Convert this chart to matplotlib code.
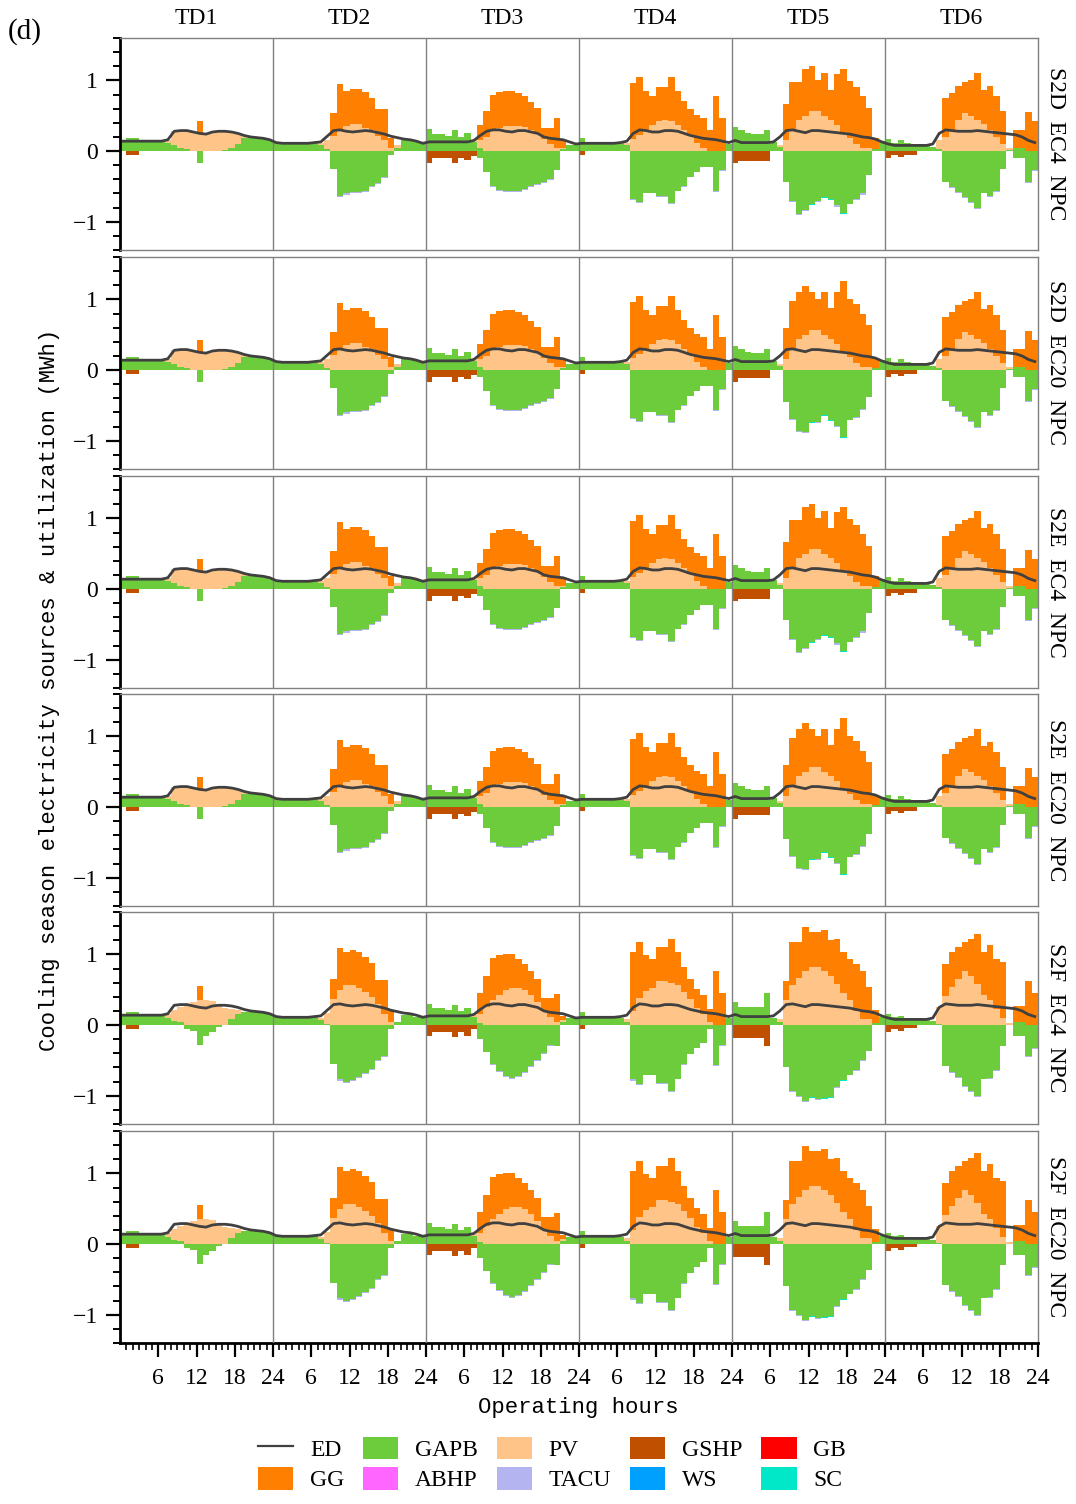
import numpy as np
import matplotlib.pyplot as plt
from matplotlib.patches import Patch
from matplotlib.lines import Line2D

plt.rcParams['font.family'] = 'serif'
plt.rcParams['font.serif'] = ['Liberation Serif', 'DejaVu Serif']

# ---- data (MWh per operating hour, 6 typical days x 24 h) ----
TD_LABELS = ['TD1', 'TD2', 'TD3', 'TD4', 'TD5', 'TD6']
ROW_LABELS = ['S2D  EC4  NPC', 'S2D  EC20  NPC', 'S2E  EC4  NPC',
              'S2E  EC20  NPC', 'S2F  EC4  NPC', 'S2F  EC20  NPC']
ROW_GROUP = ['A', 'A', 'A', 'A', 'B', 'B']
EC20_ROWS = [1, 3]   # S2D/S2E EC20 differ on TD5

# electricity demand (same for all scenarios)
ED = [0.14, 0.14, 0.14, 0.14, 0.14, 0.14, 0.14, 0.16, 0.28, 0.29, 0.29, 0.27, 0.25, 0.24, 0.27, 0.28, 0.28, 0.27, 0.25, 0.22, 0.20, 0.19, 0.18, 0.16,
      0.12, 0.11, 0.11, 0.11, 0.11, 0.11, 0.12, 0.13, 0.21, 0.29, 0.30, 0.28, 0.27, 0.28, 0.29, 0.28, 0.26, 0.24, 0.21, 0.19, 0.17, 0.16, 0.14, 0.11,
      0.13, 0.13, 0.13, 0.13, 0.13, 0.13, 0.13, 0.15, 0.22, 0.28, 0.30, 0.30, 0.28, 0.27, 0.29, 0.29, 0.27, 0.25, 0.20, 0.18, 0.17, 0.16, 0.13, 0.10,
      0.11, 0.11, 0.11, 0.11, 0.11, 0.11, 0.12, 0.14, 0.25, 0.30, 0.29, 0.27, 0.27, 0.29, 0.29, 0.28, 0.25, 0.22, 0.20, 0.18, 0.17, 0.16, 0.14, 0.12,
      0.15, 0.12, 0.12, 0.12, 0.12, 0.12, 0.13, 0.20, 0.29, 0.30, 0.28, 0.26, 0.29, 0.29, 0.28, 0.27, 0.26, 0.25, 0.24, 0.22, 0.20, 0.19, 0.17, 0.13,
      0.10, 0.08, 0.08, 0.08, 0.08, 0.08, 0.08, 0.10, 0.25, 0.30, 0.29, 0.28, 0.28, 0.28, 0.29, 0.28, 0.27, 0.26, 0.25, 0.24, 0.23, 0.20, 0.15, 0.12]

# rows S2D / S2E
GAPB_A = [0.14, 0.18, 0.18, 0.14, 0.14, 0.14, 0.14, 0.12, 0.08, 0.05, 0.03, 0, 0, 0, 0, 0, 0.02, 0.05, 0.10, 0.19, 0.20, 0.19, 0.18, 0.16,
          0.11, 0.11, 0.11, 0.11, 0.11, 0.11, 0.11, 0.08, 0.03, 0, 0, 0, 0, 0, 0, 0, 0, 0, 0, 0.05, 0.15, 0.15, 0.13, 0.10,
          0.31, 0.24, 0.24, 0.22, 0.30, 0.20, 0.25, 0.13, 0.05, 0, 0, 0, 0, 0, 0, 0, 0, 0, 0, 0, 0, 0.03, 0.08, 0.08,
          0.19, 0.12, 0.12, 0.12, 0.12, 0.12, 0.12, 0.08, 0, 0, 0, 0, 0, 0, 0, 0, 0, 0, 0, 0, 0, 0, 0, 0.10,
          0.34, 0.30, 0.26, 0.24, 0.24, 0.30, 0.13, 0.06, 0, 0, 0, 0, 0, 0, 0, 0, 0, 0, 0, 0, 0, 0, 0.03, 0.14,
          0.17, 0.12, 0.15, 0.12, 0.10, 0.10, 0.08, 0.06, 0.03, 0, 0, 0, 0, 0, 0, 0, 0, 0, 0, 0.02, 0.05, 0.05, 0, 0]
PV_A = [0, 0, 0, 0, 0, 0, 0, 0.03, 0.20, 0.24, 0.26, 0.27, 0.25, 0.24, 0.27, 0.28, 0.26, 0.22, 0.15, 0.02, 0, 0, 0, 0,
        0, 0, 0, 0, 0, 0, 0, 0.03, 0.12, 0.22, 0.28, 0.35, 0.38, 0.38, 0.33, 0.30, 0.22, 0.15, 0.05, 0.03, 0, 0, 0, 0,
        0, 0, 0, 0, 0, 0, 0, 0.02, 0.10, 0.20, 0.28, 0.32, 0.35, 0.36, 0.36, 0.34, 0.30, 0.24, 0.17, 0.10, 0.05, 0.02, 0, 0,
        0, 0, 0, 0, 0, 0, 0, 0.03, 0.17, 0.23, 0.30, 0.37, 0.43, 0.44, 0.42, 0.37, 0.30, 0.22, 0.12, 0.05, 0, 0, 0, 0,
        0, 0, 0, 0, 0, 0, 0, 0.02, 0.16, 0.30, 0.44, 0.50, 0.56, 0.56, 0.50, 0.44, 0.37, 0.27, 0.18, 0.10, 0.05, 0.05, 0, 0,
        0, 0, 0, 0, 0, 0, 0, 0, 0.12, 0.20, 0.30, 0.44, 0.54, 0.50, 0.44, 0.38, 0.30, 0.20, 0.10, 0.03, 0, 0, 0, 0]
GG_A = [0, 0, 0, 0, 0, 0, 0, 0, 0, 0, 0, 0, 0.18, 0, 0, 0, 0, 0, 0, 0, 0, 0, 0, 0,
        0, 0, 0, 0, 0, 0, 0, 0, 0, 0.32, 0.67, 0.50, 0.50, 0.50, 0.50, 0.45, 0.37, 0.44, 0.13, 0, 0, 0, 0, 0,
        0, 0, 0, 0, 0, 0, 0, 0, 0.22, 0.36, 0.52, 0.51, 0.50, 0.49, 0.46, 0.44, 0.40, 0.37, 0.15, 0.22, 0.42, 0.11, 0, 0,
        0, 0, 0, 0, 0, 0, 0, 0, 0.79, 0.82, 0.55, 0.41, 0.48, 0.47, 0.63, 0.48, 0.41, 0.38, 0.39, 0.42, 0.30, 0.78, 0.47, 0,
        0, 0, 0, 0, 0, 0, 0, 0, 0.50, 0.68, 0.54, 0.66, 0.64, 0.45, 0.61, 0.43, 0.72, 0.89, 0.81, 0.80, 0.73, 0.56, 0.16, 0,
        0, 0, 0, 0, 0, 0, 0, 0, 0, 0.55, 0.52, 0.48, 0.44, 0.51, 0.67, 0.49, 0.62, 0.58, 0.46, 0, 0.25, 0.25, 0.55, 0.42]
USE_A = [0, 0, 0, 0, 0, 0, 0, 0, 0, 0, 0, 0, -0.17, 0, 0, 0, 0, 0, 0, 0, 0, 0, 0, 0,
         0, 0, 0, 0, 0, 0, 0, 0, 0, -0.25, -0.63, -0.60, -0.58, -0.58, -0.56, -0.50, -0.45, -0.36, -0.05, 0, 0, 0, 0, 0,
         0, 0, 0, 0, 0, 0, 0, 0, -0.10, -0.30, -0.50, -0.55, -0.57, -0.57, -0.57, -0.53, -0.50, -0.47, -0.44, -0.40, -0.27, 0, 0, 0,
         0, 0, 0, 0, 0, 0, 0, 0, -0.68, -0.72, -0.60, -0.60, -0.63, -0.63, -0.74, -0.56, -0.49, -0.37, -0.30, -0.22, -0.22, -0.56, -0.27, 0,
         0, 0, 0, 0, 0, 0, 0, 0, -0.44, -0.70, -0.89, -0.84, -0.75, -0.70, -0.65, -0.68, -0.77, -0.87, -0.75, -0.68, -0.60, -0.34, 0, 0,
         0, 0, 0, 0, 0, 0, 0, 0, 0, -0.44, -0.51, -0.58, -0.65, -0.72, -0.80, -0.60, -0.63, -0.56, -0.25, 0, -0.10, -0.10, -0.44, -0.27]
GSHP_A = [0, -0.05, -0.05, 0, 0, 0, 0, 0, 0, 0, 0, 0, 0, 0, 0, 0, 0, 0, 0, 0, 0, 0, 0, 0,
          0, 0, 0, 0, 0, 0, 0, 0, 0, 0, 0, 0, 0, 0, 0, 0, 0, 0, 0, 0, 0, 0, 0, 0,
          -0.17, -0.10, -0.10, -0.10, -0.17, -0.10, -0.13, -0.07, 0, 0, 0, 0, 0, 0, 0, 0, 0, 0, 0, 0, 0, 0, 0, 0,
          -0.06, 0, 0, 0, 0, 0, 0, 0, 0, 0, 0, 0, 0, 0, 0, 0, 0, 0, 0, 0, 0, 0, 0, 0,
          -0.17, -0.14, -0.14, -0.14, -0.14, -0.14, 0, 0, 0, 0, 0, 0, 0, 0, 0, 0, 0, 0, 0, 0, 0, 0, 0, 0,
          -0.10, -0.05, -0.08, -0.05, -0.05, 0, 0, 0, 0, 0, 0, 0, 0, 0, 0, 0, 0, 0, 0, 0, 0, 0, 0, 0]

# TD5 of the S2D / S2E EC20 rows
GG_TD5_EC20 = [0, 0, 0, 0, 0, 0, 0, 0, 0.44, 0.68, 0.66, 0.69, 0.54, 0.44, 0.60, 0.44, 0.73, 0.99, 0.82, 0.83, 0.74, 0.59, 0.14, 0]
USE_TD5_EC20 = [0, 0, 0, 0, 0, 0, 0, 0, -0.45, -0.69, -0.86, -0.88, -0.74, -0.74, -0.64, -0.71, -0.79, -0.95, -0.71, -0.67, -0.55, -0.38, 0, 0]
GSHP_TD5_EC20 = [-0.17, -0.11, -0.11, -0.11, -0.11, -0.11, 0, 0, 0, 0, 0, 0, 0, 0, 0, 0, 0, 0, 0, 0, 0, 0, 0, 0]

# rows S2F
GAPB_B = [0.15, 0.18, 0.18, 0.13, 0.13, 0.13, 0.13, 0.10, 0.06, 0.04, 0, 0, 0, 0, 0, 0, 0, 0.08, 0.15, 0.19, 0.19, 0.18, 0.17, 0.15,
          0.11, 0.11, 0.11, 0.11, 0.11, 0.11, 0.11, 0.07, 0.02, 0, 0, 0, 0, 0, 0, 0, 0, 0, 0, 0.05, 0.14, 0.14, 0.12, 0.10,
          0.30, 0.24, 0.24, 0.22, 0.28, 0.20, 0.24, 0.12, 0.03, 0, 0, 0, 0, 0, 0, 0, 0, 0, 0, 0, 0, 0.05, 0.10, 0.10,
          0.18, 0.10, 0.10, 0.10, 0.10, 0.10, 0.10, 0.05, 0, 0, 0, 0, 0, 0, 0, 0, 0, 0, 0, 0, 0, 0, 0, 0.10,
          0.32, 0.25, 0.25, 0.25, 0.25, 0.46, 0.10, 0.04, 0, 0, 0, 0, 0, 0, 0, 0, 0, 0, 0, 0, 0, 0, 0.03, 0.12,
          0.15, 0.12, 0.13, 0.10, 0.10, 0.08, 0.07, 0.06, 0.02, 0, 0, 0, 0, 0, 0, 0, 0, 0, 0, 0, 0.05, 0.05, 0, 0]
PV_B = [0, 0, 0, 0, 0, 0, 0, 0.05, 0.15, 0.22, 0.28, 0.33, 0.36, 0.36, 0.34, 0.30, 0.24, 0.15, 0.06, 0, 0, 0, 0, 0,
        0, 0, 0, 0, 0, 0, 0, 0.03, 0.15, 0.37, 0.49, 0.57, 0.57, 0.52, 0.47, 0.40, 0.30, 0.15, 0.05, 0, 0, 0, 0, 0,
        0, 0, 0, 0, 0, 0, 0, 0.03, 0.13, 0.25, 0.35, 0.43, 0.50, 0.53, 0.53, 0.50, 0.42, 0.33, 0.22, 0.12, 0.05, 0.02, 0, 0,
        0, 0, 0, 0, 0, 0, 0, 0.03, 0.20, 0.38, 0.48, 0.52, 0.62, 0.63, 0.60, 0.56, 0.47, 0.37, 0.24, 0.15, 0.05, 0, 0, 0,
        0, 0, 0, 0, 0, 0, 0, 0.05, 0.35, 0.57, 0.66, 0.77, 0.82, 0.82, 0.77, 0.70, 0.58, 0.46, 0.35, 0.20, 0.08, 0.08, 0, 0,
        0, 0, 0, 0, 0, 0, 0, 0, 0.23, 0.41, 0.54, 0.65, 0.76, 0.70, 0.58, 0.42, 0.35, 0.23, 0.10, 0.03, 0, 0, 0, 0]
GG_B = [0, 0, 0, 0, 0, 0, 0, 0, 0, 0, 0, 0, 0.19, 0, 0, 0, 0, 0, 0, 0, 0, 0, 0, 0,
        0, 0, 0, 0, 0, 0, 0, 0, 0, 0.28, 0.60, 0.47, 0.49, 0.51, 0.49, 0.48, 0.34, 0.49, 0.15, 0, 0, 0, 0, 0,
        0, 0, 0, 0, 0, 0, 0, 0, 0.29, 0.45, 0.60, 0.56, 0.51, 0.48, 0.41, 0.37, 0.35, 0.32, 0.17, 0.27, 0.39, 0.06, 0, 0,
        0, 0, 0, 0, 0, 0, 0, 0, 0.83, 0.79, 0.51, 0.42, 0.48, 0.47, 0.62, 0.47, 0.35, 0.28, 0.27, 0.28, 0.18, 0.77, 0.46, 0,
        0, 0, 0, 0, 0, 0, 0, 0, 0.28, 0.60, 0.51, 0.62, 0.49, 0.49, 0.57, 0.50, 0.64, 0.57, 0.59, 0.67, 0.69, 0.46, 0.18, 0,
        0, 0, 0, 0, 0, 0, 0, 0, 0, 0.46, 0.49, 0.45, 0.41, 0.52, 0.71, 0.61, 0.79, 0.71, 0.79, 0, 0.22, 0.22, 0.62, 0.46]
USE_B = [0, 0, 0, 0, 0, 0, 0, 0, 0, 0, -0.06, -0.08, -0.28, -0.15, -0.10, -0.03, 0, 0, 0, 0, 0, 0, 0, 0,
         0, 0, 0, 0, 0, 0, 0, 0, 0, -0.55, -0.77, -0.80, -0.78, -0.74, -0.68, -0.62, -0.50, -0.44, -0.05, 0, 0, 0, 0, 0,
         0, 0, 0, 0, 0, 0, 0, 0, -0.20, -0.38, -0.55, -0.65, -0.72, -0.75, -0.72, -0.66, -0.58, -0.50, -0.40, -0.28, -0.30, 0, 0, 0,
         0, 0, 0, 0, 0, 0, 0, 0, -0.77, -0.84, -0.70, -0.70, -0.82, -0.82, -0.93, -0.77, -0.55, -0.41, -0.32, -0.25, -0.05, -0.56, -0.28, 0,
         0, 0, 0, 0, 0, 0, 0, 0, -0.60, -0.93, -1.00, -1.08, -1.02, -1.05, -1.03, -1.02, -0.88, -0.78, -0.70, -0.63, -0.50, -0.36, 0, 0,
         0, 0, 0, 0, 0, 0, 0, 0, 0, -0.58, -0.67, -0.74, -0.86, -0.93, -1.00, -0.77, -0.75, -0.63, -0.29, 0, -0.15, -0.15, -0.44, -0.32]
GSHP_B = [0, -0.05, -0.05, 0, 0, 0, 0, 0, 0, 0, 0, 0, 0, 0, 0, 0, 0, 0, 0, 0, 0, 0, 0, 0,
          0, 0, 0, 0, 0, 0, 0, 0, 0, 0, 0, 0, 0, 0, 0, 0, 0, 0, 0, 0, 0, 0, 0, 0,
          -0.15, -0.10, -0.10, -0.10, -0.17, -0.10, -0.15, -0.05, 0, 0, 0, 0, 0, 0, 0, 0, 0, 0, 0, 0, 0, 0, 0, 0,
          -0.05, 0, 0, 0, 0, 0, 0, 0, 0, 0, 0, 0, 0, 0, 0, 0, 0, 0, 0, 0, 0, 0, 0, 0,
          -0.18, -0.18, -0.18, -0.18, -0.18, -0.29, 0, 0, 0, 0, 0, 0, 0, 0, 0, 0, 0, 0, 0, 0, 0, 0, 0, 0,
          -0.10, -0.05, -0.08, -0.04, -0.04, 0, 0, 0, 0, 0, 0, 0, 0, 0, 0, 0, 0, 0, 0, 0, 0, 0, 0, 0]

# tiny TACU / SC contributions at the foot of the utilisation bars
TACU = [0, 0, 0, 0, 0, 0, 0, 0, 0, 0, 0, 0, 0, 0, 0, 0, 0, 0, 0, 0, 0, 0, 0, 0,
        0, 0, 0, 0, 0, 0, 0, 0, 0, 0, -0.015, -0.015, -0.015, -0.015, -0.015, -0.015, -0.015, -0.015, 0, 0, 0, 0, 0, 0,
        0, 0, 0, 0, 0, 0, 0, 0, 0, 0, -0.015, -0.015, -0.015, -0.015, -0.015, -0.015, -0.015, -0.015, -0.015, -0.015, 0, 0, 0, 0,
        0, 0, 0, 0, 0, 0, 0, 0, -0.015, -0.015, 0, 0, -0.015, -0.015, -0.015, 0, -0.015, 0, 0, 0, 0, -0.015, -0.015, 0,
        0, 0, 0, 0, 0, 0, 0, 0, 0, -0.015, -0.015, -0.015, 0, -0.015, 0, 0, -0.015, 0, 0, -0.015, -0.015, 0, 0, 0,
        0, 0, 0, 0, 0, 0, 0, 0, 0, 0, -0.015, -0.015, -0.015, -0.015, -0.015, 0, -0.015, -0.015, 0, 0, 0, 0, -0.015, -0.015]
SC = [0, 0, 0, 0, 0, 0, 0, 0, 0, 0, 0, 0, 0, 0, 0, 0, 0, 0, 0, 0, 0, 0, 0, 0,
      0, 0, 0, 0, 0, 0, 0, 0, 0, 0, 0, 0, 0, 0, 0, 0, 0, 0, 0, 0, 0, 0, 0, 0,
      0, 0, 0, 0, 0, 0, 0, 0, 0, 0, 0, 0, 0, 0, 0, 0, 0, 0, 0, 0, 0, 0, 0, 0,
      0, 0, 0, 0, 0, 0, 0, 0, 0, 0, 0, 0, 0, 0, 0, 0, 0, 0, 0, 0, 0, 0, 0, 0,
      0, 0, 0, 0, 0, 0, 0, 0, 0, 0, 0, 0, -0.015, 0, -0.015, -0.015, 0, -0.015, 0, 0, 0, 0, 0, 0,
      0, 0, 0, 0, 0, 0, 0, 0, 0, 0, 0, 0, 0, 0, 0, 0, 0, 0, 0, 0, 0, 0, 0, 0]

DATA = {'A': (GAPB_A, PV_A, GG_A, USE_A, GSHP_A),
        'B': (GAPB_B, PV_B, GG_B, USE_B, GSHP_B)}

COLORS = {'GG': '#FF8000', 'GAPB': '#6DCC3C', 'PV': '#FFC488', 'GSHP': '#C05000',
          'GB': '#FF0000', 'ABHP': '#FF66FF', 'TACU': '#B4B4F0', 'WS': '#00A0FF',
          'SC': '#00E8C8', 'ED': '#404040'}

W, H = 1076, 1504
fig = plt.figure(figsize=(W / 100, H / 100), dpi=100)

row_tops = [38, 257, 476, 694, 912, 1131]
row_h = 212
x_left, x_right = 120, 1038
edges = np.arange(0, 145)          # hour boundaries, bars one hour wide
x = edges[1:] - 0.5               # hour centres for the demand line
ed = np.array(ED)
tacu = np.array(TACU)
sc = np.array(SC)


def bars(ax, vals, bottom, color):
    # stacked one-hour bars as one filled step outline (no seams between bars)
    bottom = np.zeros(144) + bottom
    ax.stairs(bottom + vals, edges, baseline=bottom, fill=True, color=color,
              linewidth=0, zorder=2)


for r in range(6):
    top = row_tops[r]
    ax = fig.add_axes([x_left / W, 1 - (top + row_h) / H, (x_right - x_left) / W, row_h / H])
    gapb, pv, gg, use, gshp = [np.array(v, dtype=float) for v in DATA[ROW_GROUP[r]]]
    if r in EC20_ROWS:
        gg[96:120] = GG_TD5_EC20
        use[96:120] = USE_TD5_EC20
        gshp[96:120] = GSHP_TD5_EC20
    bars(ax, gapb, 0, COLORS['GAPB'])
    bars(ax, pv, gapb, COLORS['PV'])
    bars(ax, gg, gapb + pv, COLORS['GG'])
    bars(ax, use, 0, COLORS['GAPB'])
    bars(ax, gshp, use, COLORS['GSHP'])
    bars(ax, tacu, use + gshp, COLORS['TACU'])
    bars(ax, sc, use + gshp + tacu, COLORS['SC'])
    ax.plot(x, ed, color=COLORS['ED'], lw=2.0, zorder=4)

    for d in range(1, 6):
        ax.axvline(24 * d, color='#808080', lw=1.0, zorder=3)

    ax.set_xlim(0, 144)
    ax.set_ylim(-1.4, 1.6)
    ax.set_yticks([-1, 0, 1])
    ax.set_yticks(np.arange(-1.4, 1.61, 0.2), minor=True)
    ax.tick_params(axis='y', which='major', direction='out', length=10, width=1.6,
                   labelsize=17, pad=6, right=False)
    ax.tick_params(axis='y', which='minor', direction='out', length=5, width=1.4, right=False)
    ax.set_xticks(np.arange(6, 145, 6))
    ax.set_xticks(np.arange(1, 145), minor=True)
    ax.set_xticklabels([str((v - 1) % 24 + 1) for v in range(6, 145, 6)])

    for s in ['top', 'right', 'bottom']:
        ax.spines[s].set_color('#808080')
        ax.spines[s].set_linewidth(1.0)
    ax.spines['left'].set_color('black')
    ax.spines['left'].set_linewidth(2.0)

    if r == 5:
        ax.spines['bottom'].set_color('black')
        ax.spines['bottom'].set_linewidth(2.0)
        ax.tick_params(axis='x', which='major', direction='out', length=10, width=1.6,
                       labelsize=17, pad=8)
        ax.tick_params(axis='x', which='minor', direction='out', length=5, width=1.2)
    else:
        ax.tick_params(axis='x', which='both', bottom=False, labelbottom=False)

    fig.text(1055 / W, 1 - (top + row_h / 2) / H, ROW_LABELS[r], rotation=270,
             ha='center', va='center', fontsize=17)

    if r == 0:
        for d, lab in enumerate(TD_LABELS):
            xc = x_left + (24 * d + 12) * (x_right - x_left) / 144
            fig.text(xc / W, 1 - 19 / H, lab, ha='center', va='center', fontsize=17)

fig.text(8 / W, 1 - 32 / H, '(d)', ha='left', va='center', fontsize=21)
fig.text(50 / W, 1 - 690 / H, 'Cooling season electricity sources & utilization (MWh)',
         rotation=90, ha='center', va='center', fontsize=16, family='Liberation Mono')
fig.text(578 / W, 1 - 1407 / H, 'Operating hours', ha='center', va='center',
         fontsize=16, family='Liberation Mono')

handles = [Line2D([], [], color=COLORS['ED'], lw=1.6)]
names = ['ED', 'GG', 'GAPB', 'ABHP', 'PV', 'TACU', 'GSHP', 'WS', 'GB', 'SC']
for n in names[1:]:
    handles.append(Patch(facecolor=COLORS[n], edgecolor='none'))
fig.legend(handles, names, loc='center', bbox_to_anchor=(552 / W, 1 - 1464 / H),
           ncol=5, frameon=False, fontsize=17, handlelength=1.5, handleheight=1.1,
           handletextpad=0.7, columnspacing=0.8, labelspacing=0.25)

fig.savefig('out.png', dpi=100)
